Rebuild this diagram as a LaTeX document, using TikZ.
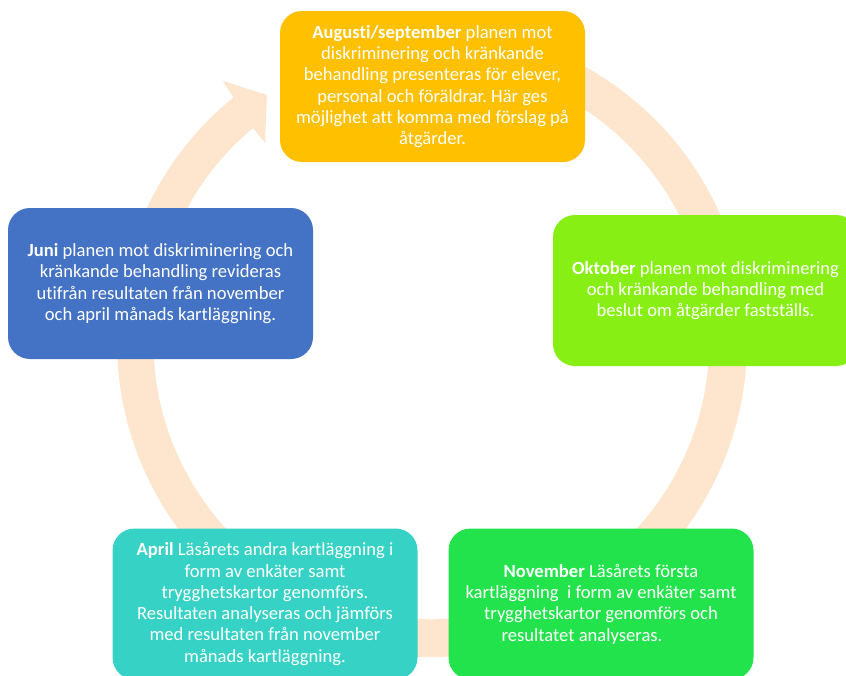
\documentclass[tikz,border=0pt]{standalone}
\usepackage{fontspec}
\setmainfont{Carlito}[Ligatures={NoCommon,NoContextual}]
\frenchspacing
\definecolor{cTop}{HTML}{FFC000}
\definecolor{cRight}{HTML}{87EF13}
\definecolor{cLeft}{HTML}{4472C4}
\definecolor{cBL}{HTML}{36D2C5}
\definecolor{cBR}{HTML}{22E34B}
\definecolor{cRing}{HTML}{FDE6CD}
\begin{document}
\begin{tikzpicture}[x=1pt,y=1pt,
  box/.style={rounded corners=22pt, minimum width=305pt, minimum height=151pt,
    text=white, align=center, inner sep=0pt,
    font=\fontsize{18.6}{21.3}\selectfont}]
\clip (0,0) rectangle (846,-675);
\fill[white] (0,0) rectangle (846,-675);
% circular arrow
\begin{scope}[shift={(432,-342)}]
\fill[cRing] (100:315) arc[start angle=100, end angle=-230.9, radius=315]
  -- (-209,261) -- (-165,247) -- (-167,199) -- (-179,214)
  arc[start angle=-230.1, end angle=100, radius=278] -- cycle;
\end{scope}
\node[box, fill=cTop] (aug) at (432.5,-86.5) {\textbf{Augusti/september} planen mot\\ diskriminering och kränkande\\ behandling presenteras för elever,\\ personal och föräldrar. Här ges\\ möjlighet att komma med förslag på\\ åtgärder.};
\node[box, fill=cRight] (okt) at (705.5,-290.5) {\textbf{Oktober} planen mot diskriminering\\ och kränkande behandling med\\ beslut om åtgärder fastställs.};
\node[box, fill=cBR] (nov) at (601,-604) {\textbf{November} Läsårets första\\ kartläggning\ \ i form av enkäter samt\\ trygghetskartor genomförs och\\ resultatet analyseras.\hspace*{38pt}};
\node[box, fill=cBL] (apr) at (265,-604) {\textbf{April} Läsårets andra kartläggning i\\ form av enkäter samt\\ trygghetskartor genomförs.\\ Resultaten analyseras och jämförs\\ med resultaten från november\\ månads kartläggning.};
\node[box, fill=cLeft] (jun) at (160.5,-283.5) {\textbf{Juni} planen mot diskriminering och\\ kränkande behandling revideras\\ utifrån resultaten från november\\ och april månads kartläggning.};
\end{tikzpicture}
\end{document}
